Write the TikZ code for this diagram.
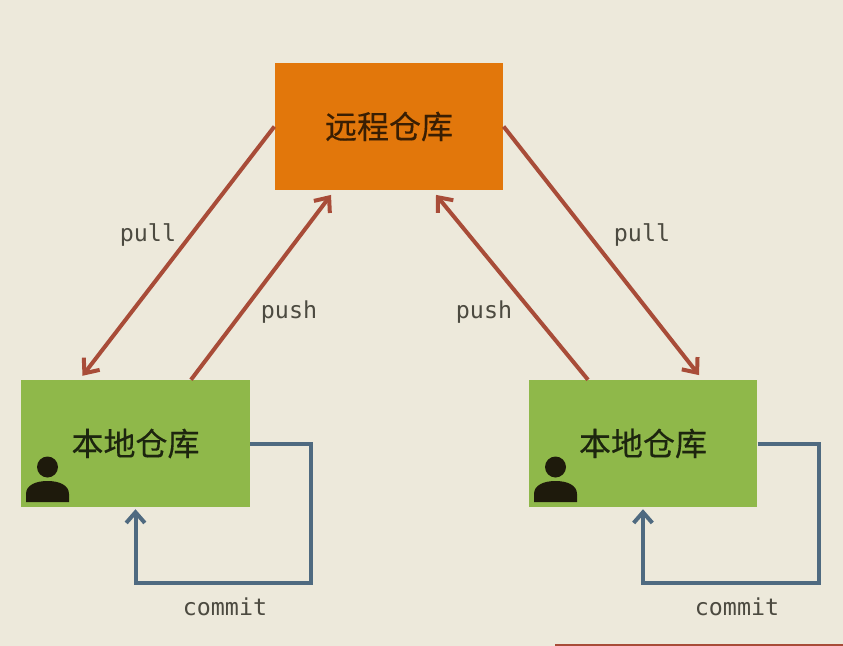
\documentclass[tikz,border=0pt]{standalone}
\usepackage{fontspec}
\usetikzlibrary{arrows.meta}
\newfontfamily\cjkfont[FakeBold=0.25]{Noto Sans CJK SC}
\newfontfamily\monofont{DejaVu Sans Mono}
\definecolor{bgc}{HTML}{EDE9DB}
\definecolor{orangec}{HTML}{E2770B}
\definecolor{greenc}{HTML}{8FB84A}
\definecolor{redc}{HTML}{A84C38}
\definecolor{bluec}{HTML}{4F6A80}
\definecolor{monoc}{HTML}{4C4A40}
\definecolor{darkc}{HTML}{1E1A0C}
\tikzset{
  x=0.75pt,y=-0.75pt,
  repo/.style={inner sep=0pt,minimum width=171.5pt,minimum height=95.2pt,font=\cjkfont\fontsize{24}{28}\selectfont},
  remote/.style={repo,fill=orangec,text=black!75!orangec},
  localrepo/.style={repo,fill=greenc,text=black!80!greenc},
  gitline/.style={redc,line width=3pt,-{Straight Barb[length=9pt,width=15pt,line width=3pt]}},
  commitline/.style={bluec,line width=3pt,line join=miter,shorten >=1.5pt,-{Straight Barb[length=8pt,width=14pt,line width=3pt]}},
  lbl/.style={inner sep=0pt,font=\monofont\fontsize{17.5}{20}\selectfont,text=monoc},
  person/.style={fill=darkc,draw=none}
}
\begin{document}
\begin{tikzpicture}
\useasboundingbox[fill=bgc] (0,0) rectangle (843,646);
\node[remote] (r) at (389,126.5) {远程仓库};
\node[localrepo] (a) at (135.5,443.5) {本地仓库};
\node[localrepo] (b) at (643,443.5) {本地仓库};
% connectors
\draw[gitline] (r.west) -- ([xshift=-39.75pt,yshift=3pt]a.north);
\draw[gitline] ([xshift=41.6pt]a.north) -- ([xshift=-43.5pt,yshift=-3.5pt]r.south);
\draw[gitline] ([xshift=-41.25pt]b.north) -- ([xshift=35.25pt,yshift=-3.5pt]r.south);
\draw[gitline] (r.east) -- ([xshift=42pt,yshift=3.5pt]b.north);
\coordinate (a2) at (311,583);
\coordinate (b2) at (819,583);
\draw[commitline] (a.east) -| (a2) -| (a.south);
\draw[commitline] (b.east) -| (b2) -| (b.south);
% labels
\node[lbl] (l1) at (148,235) {pull};
\node[lbl] (l2) at (289,312) {push};
\node[lbl] (l3) at (484,312) {push};
\node[lbl] (l4) at (642,235) {pull};
\node[lbl] (l5) at (225,607) {commit};
\node[lbl] (l6) at (737,607) {commit};
% persons
\foreach \ox in {0,508}{
  \begin{scope}[xshift=\ox*0.75pt]
    \fill[person] (47.5,467) circle[radius=10.5];
    \fill[person] (26,502) -- (26,494) .. controls (26,485) and (36,481) .. (47.5,481)
      .. controls (59,481) and (69,485) .. (69,494) -- (69,502) -- cycle;
  \end{scope}
}
% strip at the lower edge
\fill[redc] (555,643.5) rectangle (843,646);
\end{tikzpicture}
\end{document}
